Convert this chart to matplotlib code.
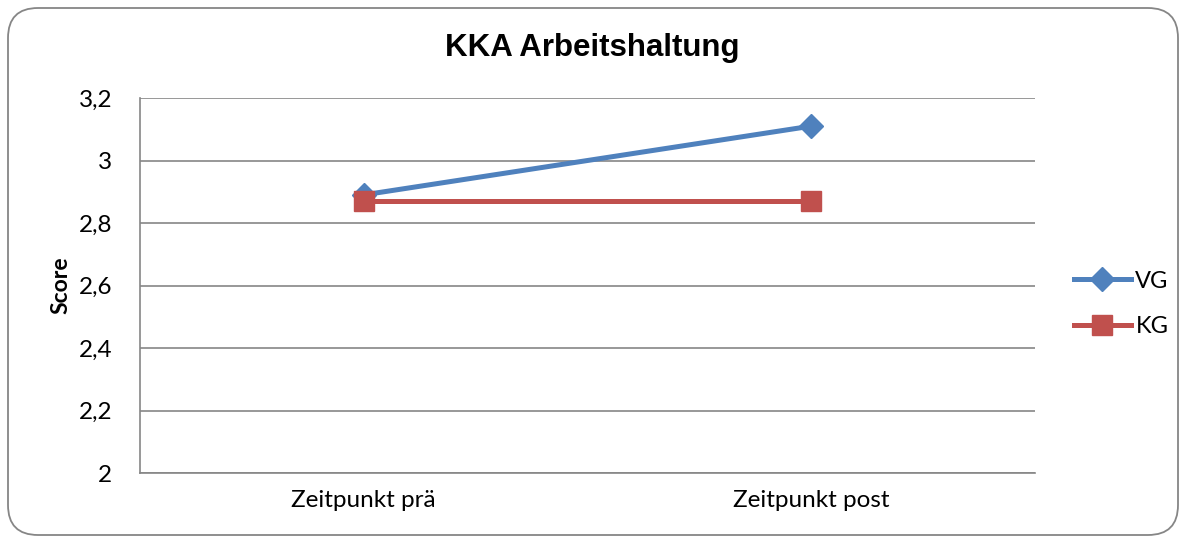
import matplotlib.pyplot as plt
from matplotlib.patches import FancyBboxPatch
from matplotlib.ticker import FuncFormatter

categories = ["Zeitpunkt prä", "Zeitpunkt post"]
vg = [2.89, 3.11]
kg = [2.87, 2.87]
yticks = [2.0, 2.2, 2.4, 2.6, 2.8, 3.0, 3.2]

plt.rcParams['font.family'] = ['Lato', 'DejaVu Sans']

fig = plt.figure(figsize=(11.84, 5.36), dpi=100)

# rounded chart border (inch coordinates)
border = FancyBboxPatch((0.08, 0.01), 11.70, 5.27,
                        boxstyle="round,pad=0,rounding_size=0.3",
                        transform=fig.dpi_scale_trans, fill=False,
                        edgecolor='#868686', linewidth=1.3)
fig.patches.append(border)

ax = fig.add_axes([140 / 1184, 1 - 473 / 536, 895 / 1184, 375 / 536])

x = [0.5, 1.5]
ax.plot(x, vg, color='#4F81BD', lw=3.6, marker='D', markersize=12, label='VG', zorder=3)
ax.plot(x, kg, color='#C0504D', lw=3.6, marker='s', markersize=14, label='KG', zorder=3)

ax.set_xlim(0, 2)
ax.set_ylim(2, 3.2)
ax.set_xticks(x)
ax.set_xticklabels(categories)
ax.set_yticks(yticks)
ax.yaxis.set_major_formatter(FuncFormatter(lambda v, p: ('%g' % round(v, 1)).replace('.', ',')))
ax.tick_params(axis='both', length=0, labelsize=17.5)
ax.tick_params(axis='y', pad=20)
ax.tick_params(axis='x', pad=12)
ax.grid(axis='y', color='#868686', lw=1.2)
for s in ['top', 'right']:
    ax.spines[s].set_visible(False)
for s in ['left', 'bottom']:
    ax.spines[s].set_color('#868686')
    ax.spines[s].set_linewidth(1.2)

ax.set_ylabel('Score', fontsize=16.5, fontweight='bold', labelpad=5)
fig.text(0.5, 1 - 48 / 536, 'KKA Arbeitshaltung', ha='center', va='center',
         fontsize=22.5, fontweight='bold', family='Liberation Sans')

fig.legend(loc='center left', bbox_to_anchor=(1074 / 1184, 1 - 304 / 536),
           frameon=False, fontsize=17, handlelength=2.4, handletextpad=0.2,
           labelspacing=1.05, borderpad=0, borderaxespad=0)

plt.savefig('out.png', dpi=100)
